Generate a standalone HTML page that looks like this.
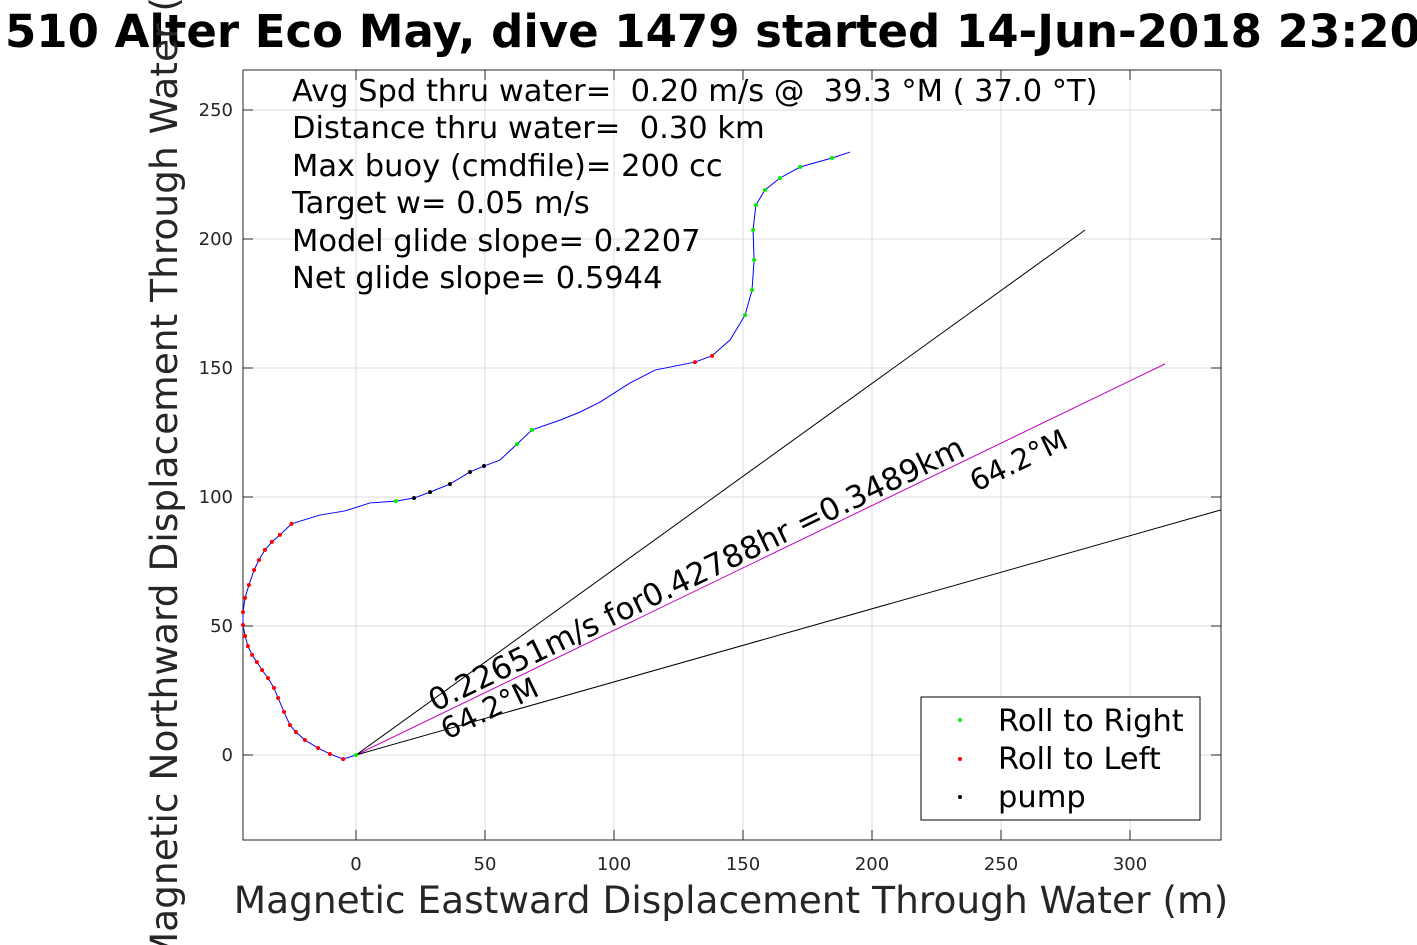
<!DOCTYPE html>
<html><head><meta charset="utf-8"><style>
body{margin:0;background:#fff;}
svg{display:block;font-family:"DejaVu Sans","Liberation Sans",sans-serif;}
text{white-space:pre;}
</style></head><body>
<svg width="1417" height="945" id="c">
<rect width="1417" height="945" fill="#fff"/>
<text x="5" y="47" font-size="45" font-weight="bold">510 Alter Eco May, dive 1479 started 14-Jun-2018 23:20</text>
<g id="grid"></g>
<rect x="243" y="70" width="978" height="770" fill="none" stroke="#262626" stroke-width="1"/>
<g id="ticks" font-size="18" fill="#262626"></g>
<g id="marks"></g>
<g font-size="30.5" fill="#000">
<text x="292" y="101" xml:space="preserve">Avg Spd thru water=  0.20 m/s @  39.3 °M ( 37.0 °T)</text>
<text x="292" y="138" xml:space="preserve">Distance thru water=  0.30 km</text>
<text x="292" y="176">Max buoy (cmdfile)= 200 cc</text>
<text x="292" y="213">Target w= 0.05 m/s</text>
<text x="292" y="251">Model glide slope= 0.2207</text>
<text x="292" y="288">Net glide slope= 0.5944</text>
</g>
<text transform="translate(435,712) rotate(-25.8)" font-size="31">0.22651m/s for0.42788hr =0.3489km</text>
<text transform="translate(447,740) rotate(-25.8)" font-size="29">64.2°M</text>
<text transform="translate(976,492) rotate(-25.8)" font-size="29">64.2°M</text>
<text x="731" y="913" text-anchor="middle" font-size="37.5" fill="#262626">Magnetic Eastward Displacement Through Water (m)</text>
<text transform="translate(177,455) rotate(-90)" text-anchor="middle" font-size="37.5" fill="#262626">Magnetic Northward Displacement Through Water (m)</text>
<g>
<rect x="921" y="697" width="279" height="123" fill="#fff" stroke="#000"/>
<circle cx="960" cy="720" r="2" fill="#0f0"/><text x="998" y="731" font-size="30.5">Roll to Right</text>
<circle cx="960" cy="759" r="2" fill="#f00"/><text x="998" y="769" font-size="30.5">Roll to Left</text>
<circle cx="960" cy="797" r="2" fill="#000"/><text x="998" y="807" font-size="30.5">pump</text>
</g>
</svg>
<script>
const xTicks=[0,50,100,150,200,250,300];
const yTicks=[0,50,100,150,200,250];
const pathX=[0,-5,-10.1,-14.7,-19.8,-23.3,-25.6,-27.9,-30.2,-31.8,-34.1,-36.4,-38.4,-40.3,-41.9,-43.0,-43.8,-43.8,-43.0,-41.5,-39.5,-37.6,-35.3,-32.6,-29.5,-25,-14,-4.3,5.4,15.5,22.5,28.7,36.4,44.2,49.6,55.8,62.4,68.2,79.1,86.8,94.6,106.2,115.9,131.4,138,145,150.8,153.5,154.3,153.9,155,158.5,164.3,172.1,184.5,191.5];
const pathY=[0,-1.6,0.4,2.7,5.8,8.9,11.6,16.7,22.1,26,29.8,32.9,36,38.8,42.2,46.1,50.4,55.4,60.9,65.9,71.7,75.6,79.5,82.6,85.3,89.6,93,94.6,97.7,98.4,99.6,101.9,105,109.7,112,114.3,120.5,126,129.8,132.9,136.8,144.2,149.2,152.3,154.7,160.9,170.5,180.2,191.9,203.5,213.2,219,223.6,227.9,231.4,233.7];
const markerType=["g","r","r","r","r","r","r","r","r","r","r","r","r","r","r","r","r","r","r","r","r","r","r","r","r","r","","","","g","k","k","k","k","k","","g","g","","","","","","r","r","","g","g","g","g","g","g","g","g","g",""];
const lineEnds=[[313.6,151.6,"#c000c0"],[282.6,203.5,"#000"],[335.3,95,"#000"]];
const sx=v=>356+v*2.58, sy=v=>755-v*2.58;
const NS="http://www.w3.org/2000/svg";
function mk(t,a,p){const e=document.createElementNS(NS,t);for(const k in a)e.setAttribute(k,a[k]);p.appendChild(e);return e;}
const grid=document.getElementById('grid'),ticks=document.getElementById('ticks'),marks=document.getElementById('marks');
xTicks.forEach(v=>{
 const l=mk('line',{x1:sx(v),x2:sx(v),y1:70,y2:840,stroke:'#dcdcdc'},grid);
 
 
 mk('line',{x1:sx(v),x2:sx(v),y1:840,y2:830,stroke:'#262626'},ticks);
 mk('line',{x1:sx(v),x2:sx(v),y1:70,y2:80,stroke:'#262626'},ticks);
 const t=mk('text',{x:sx(v),y:870,'text-anchor':'middle'},ticks);t.textContent=v;
 
 
});
yTicks.forEach(v=>{
 const l=mk('line',{x1:243,x2:1221,y1:sy(v),y2:sy(v),stroke:'#dcdcdc'},grid);
 
 
 mk('line',{x1:243,x2:253,y1:sy(v),y2:sy(v),stroke:'#262626'},ticks);
 mk('line',{x1:1221,x2:1211,y1:sy(v),y2:sy(v),stroke:'#262626'},ticks);
 const t=mk('text',{x:233,y:sy(v)+6,'text-anchor':'end'},ticks);t.textContent=v;
 
 
});
lineEnds.forEach(d=>{
 const l=mk('line',{x1:sx(0),y1:sy(0),x2:sx(d[0]),y2:sy(d[1]),stroke:d[2],'stroke-width':1},marks);
 
 
});
const pts=pathX.map((x,i)=>sx(x)+','+sy(pathY[i])).join(' ');
const pl=mk('polyline',{points:pts,fill:'none',stroke:'#0000ff','stroke-width':1},marks);


const col={g:'#00ee00',r:'#ff0000',k:'#000'};
pathX.forEach((x,i)=>{const m=markerType[i];if(!m)return;
 const c=mk('circle',{cx:sx(x),cy:sy(pathY[i]),r:2,fill:col[m]},marks);
 
 
});
</script>
</body></html>
